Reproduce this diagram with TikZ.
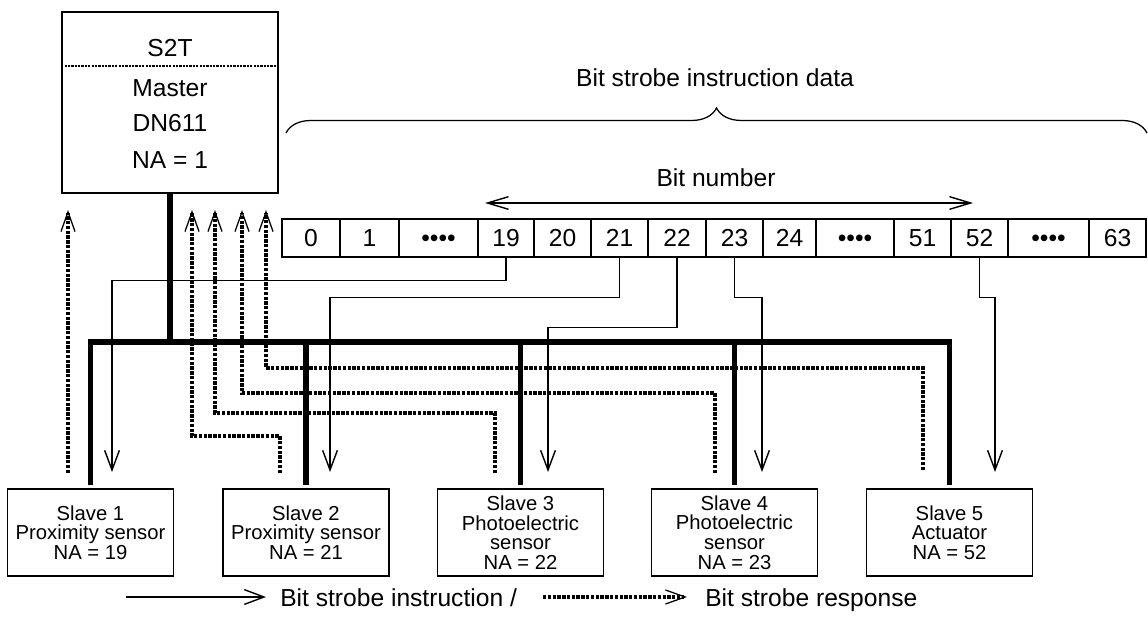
\documentclass[tikz,border=0pt]{standalone}
\usepackage{fontspec}
\setmainfont{Liberation Sans}
\usetikzlibrary{arrows.meta,decorations.pathreplacing}

\tikzset{
  box/.style={draw, line width=1.1pt, inner sep=0pt},
  big/.style={font=\fontsize{17.5}{20}\selectfont},
  cell/.style={draw, line width=0.9pt, inner sep=0pt, minimum height=0.95cm,
    text height=12.4pt, text depth=0pt, big},
  slave/.style={box, minimum width=4.15cm, minimum height=2.175cm, align=center,
    font=\fontsize{14.4}{13.9}\selectfont},
  bus/.style={line width=3.6pt},
  instr/.style={line width=1pt, -{Straight Barb[length=14pt,width=10.5pt]}},
  resp/.style={line width=2.2pt, dash pattern=on 2.4pt off 1pt,
    -{Straight Barb[length=14pt,width=10pt,line width=0.9pt]}},
}

\begin{document}
\begin{tikzpicture}[x=0.025cm, y=-0.025cm]
  \useasboundingbox (0,0) rectangle (1148,630);
  % Master
  \node[box, minimum width=5.4cm, minimum height=4.525cm] (master) at (170,102.5) {};
  \draw[line width=1.6pt, dash pattern=on 1.6pt off 0.8pt] (master.west |- 0,66) -- (master.east |- 0,66);
  \node[big, anchor=base] (mS2T) at (170,57) {S2T};
  \node[big, anchor=base] (mName) at (170,97) {Master};
  \node[big, anchor=base] (mType) at (170,132) {DN611};
  \node[big, anchor=base] (mNA) at (170,168) {NA = 1};
  % Bitfeld
  \node[big] (data) at (715,78) {Bit strobe instruction data};
  \draw[line width=0.9pt, decorate, decoration={brace, amplitude=0.625cm}] (286,133) -- (1147,133);
  \node[big] (bitno) at (716,178) {Bit number};
  \coordinate (bnL) at (485,203);
  \coordinate (bnR) at (973,203);
  \draw[line width=1pt, {Straight Barb[length=15pt,width=9pt]}-{Straight Barb[length=15pt,width=9pt]}] (bnL) -- (bnR);
  \foreach \l/\r/\t/\n in {282/340/0/b0, 340/399/1/b1, 399/478/••••/bd1, 478/534/19/b19,
      534/591/20/b20, 591/648/21/b21, 648/706/22/b22, 706/763/23/b23, 763/816/24/b24,
      816/894/••••/bd2, 894/951/51/b51, 951/1008/52/b52, 1008/1089/••••/bd3, 1089/1146/63/b63}{
    \pgfmathsetmacro\w{(\r-\l)*0.025}
    \node[cell, minimum width=\w cm] (\n) at ({(\l+\r)/2},238) {\t};
  }
  % Slaves
  \node[slave] (s1) at (90.5,532.5) {Slave 1\\Proximity sensor\\NA = 19};
  \node[slave] (s2) at (306,532.5) {Slave 2\\Proximity sensor\\NA = 21};
  \node[slave] (s3) at (520.5,532.5) {Slave 3\\Photoelectric\\sensor\\NA = 22};
  \node[slave] (s4) at (734.5,532.5) {Slave 4\\Photoelectric\\sensor\\NA = 23};
  \node[slave] (s5) at (949.5,532.5) {Slave 5\\Actuator\\NA = 52};
  % Antworten
  \coordinate (r1) at (68,473);  \coordinate (m1) at (68,210);
  \coordinate (r2) at (280,473); \coordinate (m2) at (192,210);
  \coordinate (r3) at (495,473); \coordinate (m3) at (215,210);
  \coordinate (r4) at (715,473); \coordinate (m4) at (242,210);
  \coordinate (r5) at (923,470); \coordinate (m5) at (266,210);
  \draw[resp] (r1) -- (m1);
  \draw[resp] (r2) -- ++(0,-37) -| (m2);
  \draw[resp] (r3) -- ++(0,-60) -| (m3);
  \draw[resp] (r4) -- ++(0,-80) -| (m4);
  \draw[resp] (r5) -- ++(0,-102) -| (m5);
  % Bus
  \coordinate (busy) at (0,342);
  \draw[bus] ([yshift=2pt]s1.north) -- (s1.north |- busy) -- (s5.north |- busy) -- ([yshift=2pt]s5.north);
  \draw[bus] (master.south) -- (master.south |- busy);
  \foreach \s in {s2,s3,s4}
    \draw[bus] (\s.north |- busy) -- ([yshift=2pt]\s.north);
  % Befehle
  \coordinate (i1) at (112,472);
  \coordinate (i2) at (330,472);
  \coordinate (i3) at (548,472);
  \coordinate (i4) at (762,472);
  \coordinate (i5) at (995,472);
  \draw[instr] (b19.south) -- ++(0,23) -| (i1);
  \draw[instr] (b21.south) -- ++(0,40) -| (i2);
  \draw[instr] (b22.south) -- ++(0,70) -| (i3);
  \draw[instr] (b23.south) -- ++(0,40) -| (i4);
  \draw[instr] (b52.south) -- ++(0,40) -| (i5);
  % Legende
  \coordinate (lgA) at (126,597);
  \coordinate (lgB) at (266,597);
  \coordinate (lgC) at (543,597);
  \coordinate (lgD) at (687,597);
  \draw[instr] (lgA) -- (lgB);
  \node[big, anchor=base west, inner sep=0pt] (lgI) at (280,606) {Bit strobe instruction /};
  \draw[resp] (lgC) -- (lgD);
  \node[big, anchor=base west, inner sep=0pt] (lgR) at (705,606) {Bit strobe response};
\end{tikzpicture}
\end{document}
